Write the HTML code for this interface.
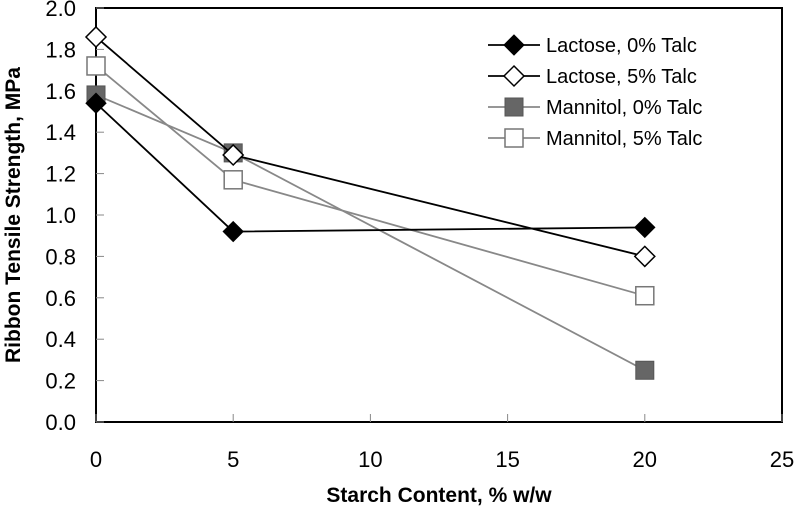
<!DOCTYPE html>
<html><head><meta charset="utf-8"><style>
body{margin:0;background:#fff;}
svg{display:block;font-family:"Liberation Sans",Arial,sans-serif;}
</style></head><body>
<svg id="chart" width="799" height="520" viewBox="0 0 799 520">
<g id="axes"></g><g id="series"></g><g id="legend"></g>
</svg>
<script>
const xVals = [0, 5, 20];
const lactose0 = [1.54, 0.92, 0.94];
const lactose5 = [1.86, 1.29, 0.80];
const mannitol0 = [1.58, 1.30, 0.25];
const mannitol5 = [1.72, 1.17, 0.61];
const xTicks = [0, 5, 10, 15, 20, 25];
const yTicks = ["0.0","0.2","0.4","0.6","0.8","1.0","1.2","1.4","1.6","1.8","2.0"];
const seriesNames = ["Lactose, 0% Talc","Lactose, 5% Talc","Mannitol, 0% Talc","Mannitol, 5% Talc"];

const NS="http://www.w3.org/2000/svg";
const L=96,R=782,T=8,B=422;
const xs=v=>L+(v/25)*(R-L);
const ys=v=>B-(v/2)*(B-T);
function mk(tag,attrs,parent){const e=document.createElementNS(NS,tag);for(const k in attrs)e.setAttribute(k,attrs[k]);parent.appendChild(e);return e;}
const axes=document.getElementById('axes'),sg=document.getElementById('series'),lg=document.getElementById('legend');

const frame=mk('rect',{x:L,y:T,width:R-L,height:B-T,fill:'none',stroke:'#000','stroke-width':2},axes);


yTicks.forEach(t=>{const y=ys(parseFloat(t));
 const tk=mk('line',{x1:L,x2:L+8,y1:y,y2:y,stroke:'#888','stroke-width':1},axes);
 
 
 const tx=mk('text',{x:L-20,y:y+8,'text-anchor':'end','font-size':22,fill:'#000'},axes);tx.textContent=t;
 
 
});
xTicks.forEach(t=>{const x=xs(t);
 const tk=mk('line',{x1:x,x2:x,y1:B,y2:B-8,stroke:'#888','stroke-width':1},axes);
 
 
 const tx=mk('text',{x:x,y:B+45,'text-anchor':'middle','font-size':22,fill:'#000'},axes);tx.textContent=t;
 
 
});
const xt=mk('text',{x:(L+R)/2,y:502,'text-anchor':'middle','font-size':21,'font-weight':'bold'},axes);xt.textContent='Starch Content, % w/w';


const yt=mk('text',{x:0,y:0,transform:`translate(20,${(T+B)/2}) rotate(-90)`,'text-anchor':'middle','font-size':21,'font-weight':'bold'},axes);yt.textContent='Ribbon Tensile Strength, MPa';



function marker(type,x,y,parent){
 if(type==='dfill')return mk('polygon',{points:`${x},${y-10} ${x+10},${y} ${x},${y+10} ${x-10},${y}`,fill:'#000',stroke:'#000'},parent);
 if(type==='dopen')return mk('polygon',{points:`${x},${y-10} ${x+10},${y} ${x},${y+10} ${x-10},${y}`,fill:'#fff',stroke:'#000','stroke-width':1.5},parent);
 if(type==='sfill')return mk('rect',{x:x-9,y:y-9,width:18,height:18,fill:'#666',stroke:'#555'},parent);
 return mk('rect',{x:x-9,y:y-9,width:18,height:18,fill:'#fff',stroke:'#777','stroke-width':1.5},parent);
}
const defs=[[mannitol5,'#888','sopen','mannitol-5-talc'],[mannitol0,'#888','sfill','mannitol-0-talc'],[lactose5,'#000','dopen','lactose-5-talc'],[lactose0,'#000','dfill','lactose-0-talc']];
defs.forEach(([vals,col,m,name])=>{
 const pts=vals.map((v,i)=>xs(xVals[i])+','+ys(v)).join(' ');
 const pl=mk('polyline',{points:pts,fill:'none',stroke:col,'stroke-width':1.8},sg);
 
 
 vals.forEach((v,i)=>{const mm=marker(m,xs(xVals[i]),ys(v),sg);
  
  });
});
const lm=[['#000','dfill'],['#000','dopen'],['#888','sfill'],['#888','sopen']];
seriesNames.forEach((n,i)=>{const y=45+i*31;
 const g=mk('g',{},lg);
 
 
 mk('line',{x1:488,x2:540,y1:y,y2:y,stroke:lm[i][0],'stroke-width':1.8},g);
 marker(lm[i][1],514,y,g);
 const t=mk('text',{x:546,y:y+7,'font-size':20},g);t.textContent=n;
});
</script>
</body></html>
